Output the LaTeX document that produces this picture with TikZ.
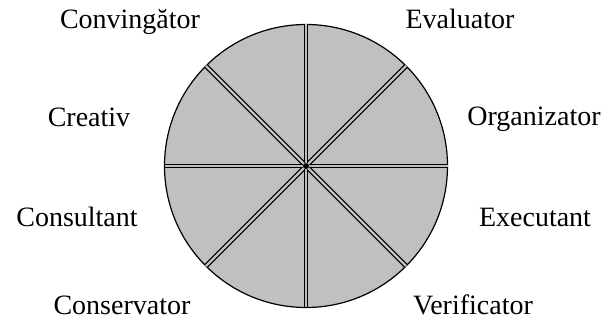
\documentclass[tikz,border=0pt]{standalone}
\usepackage{fontspec}
\setmainfont{Liberation Serif}
\usetikzlibrary{positioning}
\definecolor{wheelgray}{RGB}{192,192,192}

\begin{document}
\begin{tikzpicture}[
    x=1pt, y=1pt,
    wheel/.style={circle, draw, line width=1.2pt, fill=wheelgray, minimum size=283pt, inner sep=0pt, outer sep=0pt},
    spoke/.style={double=wheelgray, double distance=2.2pt, line width=1.3pt},
    role/.style={anchor=base, font=\fontsize{28}{32}\selectfont, inner sep=0pt}
]
\useasboundingbox (0,0) rectangle (608,320);
\node[wheel] (wheel) at (306,154) {};
\node[circle, fill, inner sep=0pt, minimum size=6pt] (hub) at (wheel.center) {};
\foreach \a in {0,45,...,315}
  \draw[spoke] (hub) -- (wheel.\a);

\node[role] (conv) at (130,291) {Convingător};
\node[role] (eval) at (460,291) {Evaluator};
\node[role] (creat) at (89,193) {Creativ};
\node[role] (org) at (534,194) {Organizator};
\node[role] (cons) at (77,93) {Consultant};
\node[role] (exec) at (535,93) {Executant};
\node[role] (conserv) at (122,5) {Conservator};
\node[role] (verif) at (473,5) {Verificator};
\end{tikzpicture}
\end{document}
